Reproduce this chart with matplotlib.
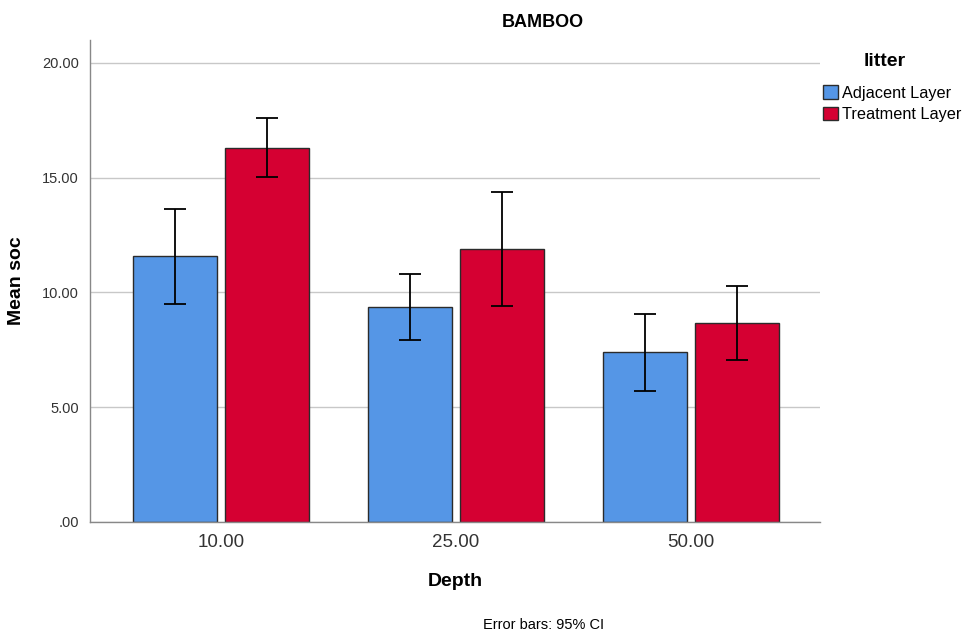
import numpy as np
import matplotlib.pyplot as plt

plt.rcParams['font.family'] = ['Liberation Sans', 'DejaVu Sans']

depths = ['10.00', '25.00', '50.00']
groups = ['Adjacent Layer', 'Treatment Layer']
means = {
    'Adjacent Layer': [11.59, 9.36, 7.38],
    'Treatment Layer': [16.31, 11.91, 8.67],
}
ci_low = {
    'Adjacent Layer': [9.49, 7.94, 5.70],
    'Treatment Layer': [15.02, 9.41, 7.05],
}
ci_high = {
    'Adjacent Layer': [13.65, 10.82, 9.07],
    'Treatment Layer': [17.61, 14.39, 10.27],
}
colors = {'Adjacent Layer': '#5596e6', 'Treatment Layer': '#d50032'}

fig = plt.figure(figsize=(9.7, 6.35), dpi=100)
ax = fig.add_axes([0.0928, 0.1784, 0.7526, 0.7586])

x = np.arange(len(depths))
width = 0.357
offsets = [-0.197, 0.197]
for g, off in zip(groups, offsets):
    m = np.array(means[g])
    lo = m - np.array(ci_low[g])
    hi = np.array(ci_high[g]) - m
    ax.bar(x + off, m, width, color=colors[g], edgecolor='#2b2b2b', linewidth=1.0,
           label=g, zorder=2)
    ax.errorbar(x + off, m, yerr=[lo, hi], fmt='none', ecolor='black', elinewidth=1.3,
                capsize=8, capthick=1.3, zorder=3)

ax.set_xlim(-0.557, 2.549)
ax.set_ylim(0, 21)
ax.set_xticks(x)
ax.set_xticklabels(depths, fontsize=13.5, color='#333333')
yt = [0, 5, 10, 15, 20]
ax.set_yticks(yt)
ax.set_yticklabels(['.00', '5.00', '10.00', '15.00', '20.00'], fontsize=10.5, color='#333333')
ax.tick_params(length=0, pad=8)
ax.tick_params(axis='x', pad=9)
ax.yaxis.grid(True, color='#c8c8c8', linewidth=1.0, zorder=0)
ax.set_axisbelow(True)
for s in ['top', 'right']:
    ax.spines[s].set_visible(False)
for s in ['left', 'bottom']:
    ax.spines[s].set_color('#888888')
    ax.spines[s].set_linewidth(1.0)

ax.set_ylabel('Mean soc', fontsize=14, fontweight='bold', labelpad=12)
ax.set_xlabel('Depth', fontsize=14, fontweight='bold', labelpad=16)
fig.text(0.56, 0.965, 'BAMBOO', ha='center', va='center', fontsize=13, fontweight='bold')
fig.text(0.56, 0.016, 'Error bars: 95% CI', ha='center', va='center', fontsize=10.5)

fig.text(0.912, 0.903, 'litter', ha='center', va='center', fontsize=14, fontweight='bold')
ax.legend(loc='upper left', bbox_to_anchor=(823 / 970, 0.8655), bbox_transform=fig.transFigure,
          frameon=False, fontsize=11.7, borderpad=0, handlelength=0.9, handleheight=0.9,
          handletextpad=0.3, labelspacing=0.38, borderaxespad=0.0)

fig.savefig('out.png', dpi=100)
